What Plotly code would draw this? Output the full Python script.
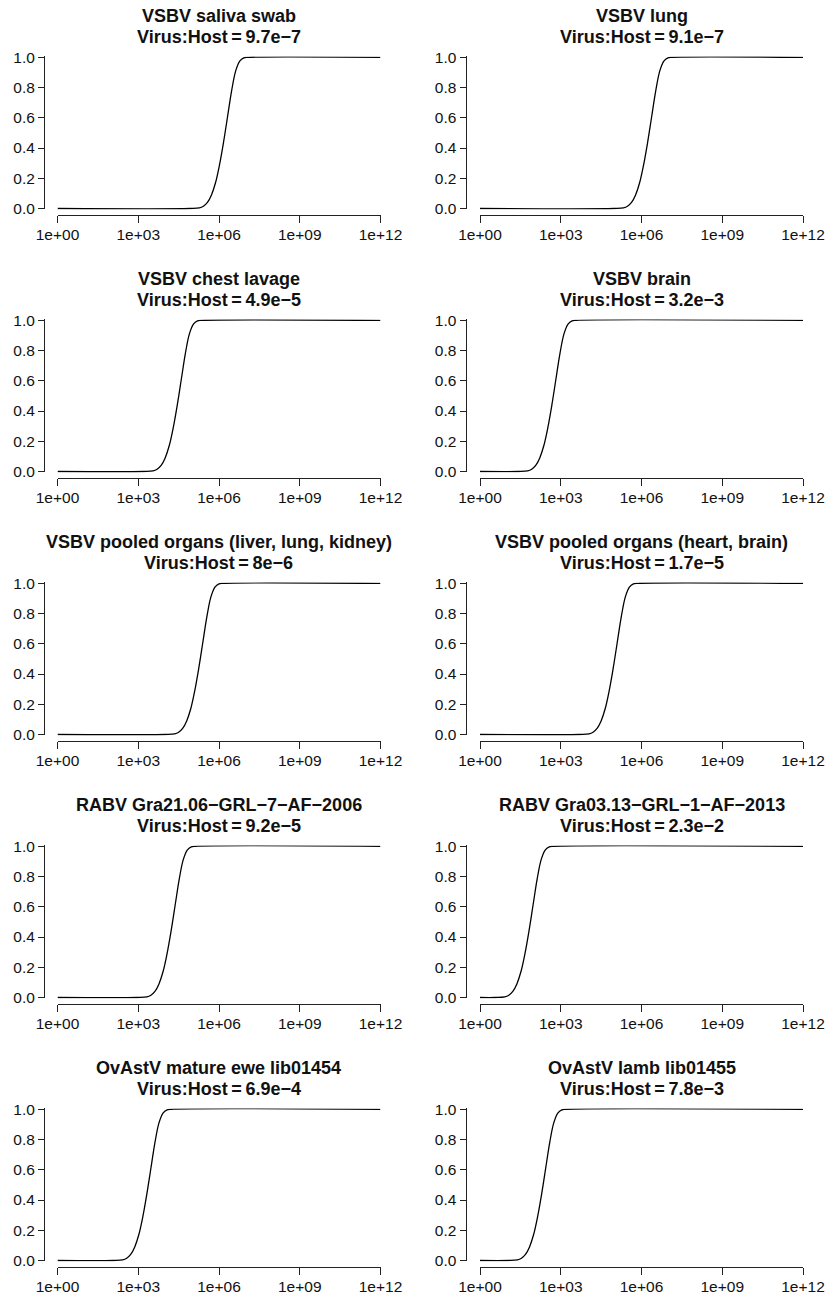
import plotly.graph_objects as go

# ---------------- data ----------------
titles = [
    "VSBV saliva swab",
    "VSBV lung",
    "VSBV chest lavage",
    "VSBV brain",
    "VSBV pooled organs (liver, lung, kidney)",
    "VSBV pooled organs (heart, brain)",
    "RABV Gra21.06\u2212GRL\u22127\u2212AF\u22122006",
    "RABV Gra03.13\u2212GRL\u22121\u2212AF\u22122013",
    "OvAstV mature ewe lib01454",
    "OvAstV lamb lib01455",
]
ratios = ["9.7e\u22127", "9.1e\u22127", "4.9e\u22125", "3.2e\u22123", "8e\u22126",
          "1.7e\u22125", "9.2e\u22125", "2.3e\u22122", "6.9e\u22124", "7.8e\u22123"]

# probability levels along each curve
prob = [0, 0, 0.004, 0.015, 0.04, 0.09, 0.17, 0.29, 0.44, 0.61,
        0.78, 0.91, 0.975, 0.996, 1.0, 1.0]

# log10(sequencing depth) at which each curve reaches the levels above
logdepth_1 = [0, 4.92, 5.27, 5.42, 5.57, 5.72, 5.87, 6.02, 6.17, 6.32, 6.47, 6.62, 6.77, 6.92, 7.07, 12]
logdepth_2 = [0, 4.98, 5.33, 5.48, 5.63, 5.78, 5.93, 6.08, 6.23, 6.38, 6.53, 6.68, 6.83, 6.98, 7.13, 12]
logdepth_3 = [0, 3.20, 3.55, 3.70, 3.85, 4.00, 4.15, 4.30, 4.45, 4.60, 4.75, 4.90, 5.05, 5.20, 5.35, 12]
logdepth_4 = [0, 1.42, 1.77, 1.92, 2.07, 2.22, 2.37, 2.52, 2.67, 2.82, 2.97, 3.12, 3.27, 3.42, 3.57, 12]
logdepth_5 = [0, 4.00, 4.35, 4.50, 4.65, 4.80, 4.95, 5.10, 5.25, 5.40, 5.55, 5.70, 5.85, 6.00, 6.15, 12]
logdepth_6 = [0, 3.70, 4.05, 4.20, 4.35, 4.50, 4.65, 4.80, 4.95, 5.10, 5.25, 5.40, 5.55, 5.70, 5.85, 12]
logdepth_7 = [0, 2.97, 3.32, 3.47, 3.62, 3.77, 3.92, 4.07, 4.22, 4.37, 4.52, 4.67, 4.82, 4.97, 5.12, 12]
logdepth_8 = [0, 0.57, 0.92, 1.07, 1.22, 1.37, 1.52, 1.67, 1.82, 1.97, 2.12, 2.27, 2.42, 2.57, 2.72, 12]
logdepth_9 = [0, 2.07, 2.42, 2.57, 2.72, 2.87, 3.02, 3.17, 3.32, 3.47, 3.62, 3.77, 3.92, 4.07, 4.22, 12]
logdepth_10 = [0, 1.04, 1.39, 1.54, 1.69, 1.84, 1.99, 2.14, 2.29, 2.44, 2.59, 2.74, 2.89, 3.04, 3.19, 12]

x_tickvals = [1, 1e3, 1e6, 1e9, 1e12]
x_ticktext = ["1e+00", "1e+03", "1e+06", "1e+09", "1e+12"]
y_tickvals = [0, 0.2, 0.4, 0.6, 0.8, 1.0]
y_ticktext = ["0.0", "0.2", "0.4", "0.6", "0.8", "1.0"]

curves = [logdepth_1, logdepth_2, logdepth_3, logdepth_4, logdepth_5,
          logdepth_6, logdepth_7, logdepth_8, logdepth_9, logdepth_10]

# ---------------- layout (pixels) ----------------
W, H = 832, 1295
FONT = "Liberation Sans, Arial, Helvetica, sans-serif"
col_x = [(57.5, 380.5, 44.0, 218.5), (480.0, 803.0, 465.5, 641.5)]  # x0, x1, yaxis line, title centre
ROW_STEP = 263.0
TOP1 = 57.3     # y pixel of 1.0 in row 1
BOT1 = 208.5    # y pixel of 0.0 in row 1
PAD = 0.006
XLINE1 = 215.0
TICKFONT = 15.5
TITLEFONT = 18

def px(x):
    return x / W

def py(y):
    return 1 - y / H

fig = go.Figure()
annotations = []
layout = dict(
    width=W, height=H, margin=dict(l=0, r=0, t=0, b=0, pad=0, autoexpand=False),
    paper_bgcolor="white", plot_bgcolor="white",
    showlegend=False,
    font=dict(family=FONT, color="#111111", size=TICKFONT),
)

unit = BOT1 - TOP1
for i in range(10):
    r, c = divmod(i, 2)
    x0, x1, yline, tc = col_x[c]
    top = TOP1 + r * ROW_STEP - PAD * unit
    bot = BOT1 + r * ROW_STEP + PAD * unit
    xl = XLINE1 + r * ROW_STEP
    k = "" if i == 0 else str(i + 1)
    fig.add_trace(go.Scatter(
        x=[10 ** v for v in curves[i]], y=prob,
        mode="lines", line=dict(color="black", width=1.3, shape="spline", smoothing=1.0),
        xaxis="x" + k, yaxis="y" + k, hoverinfo="skip",
    ))
    layout["xaxis" + k] = dict(
        domain=[px(x0), px(x1)], type="log", range=[0, 12],
        anchor="free", position=py(xl), automargin=False,
        tickvals=x_tickvals, ticktext=x_ticktext,
        ticks="outside", ticklen=7, tickwidth=1, tickcolor="#222",
        ticklabelstandoff=-2,
        showline=True, linecolor="#222", linewidth=1,
        showgrid=False, zeroline=False, tickfont=dict(size=TICKFONT),
        fixedrange=True,
    )
    layout["yaxis" + k] = dict(
        domain=[py(bot), py(top)], range=[-PAD, 1 + PAD],
        anchor="free", position=px(yline), automargin=False,
        tickvals=y_tickvals, ticktext=y_ticktext,
        ticks="outside", ticklen=6, tickwidth=1, tickcolor="#222",
        showline=True, linecolor="#222", linewidth=1,
        showgrid=False, zeroline=False, tickfont=dict(size=TICKFONT),
        fixedrange=True,
    )
    t1 = TOP1 + r * ROW_STEP - 41.5
    t2 = TOP1 + r * ROW_STEP - 20.5
    annotations.append(dict(text="<b>" + titles[i] + "</b>", x=px(tc), y=py(t1),
                            xref="paper", yref="paper", xanchor="center", yanchor="middle",
                            showarrow=False, font=dict(size=TITLEFONT, family=FONT, color="#111")))
    annotations.append(dict(text="<b>Virus:Host\u2009=\u2009" + ratios[i] + "</b>", x=px(tc), y=py(t2),
                            xref="paper", yref="paper", xanchor="center", yanchor="middle",
                            showarrow=False, font=dict(size=TITLEFONT, family=FONT, color="#111")))

layout["annotations"] = annotations
fig.update_layout(**layout)
fig.write_html("out.html")
